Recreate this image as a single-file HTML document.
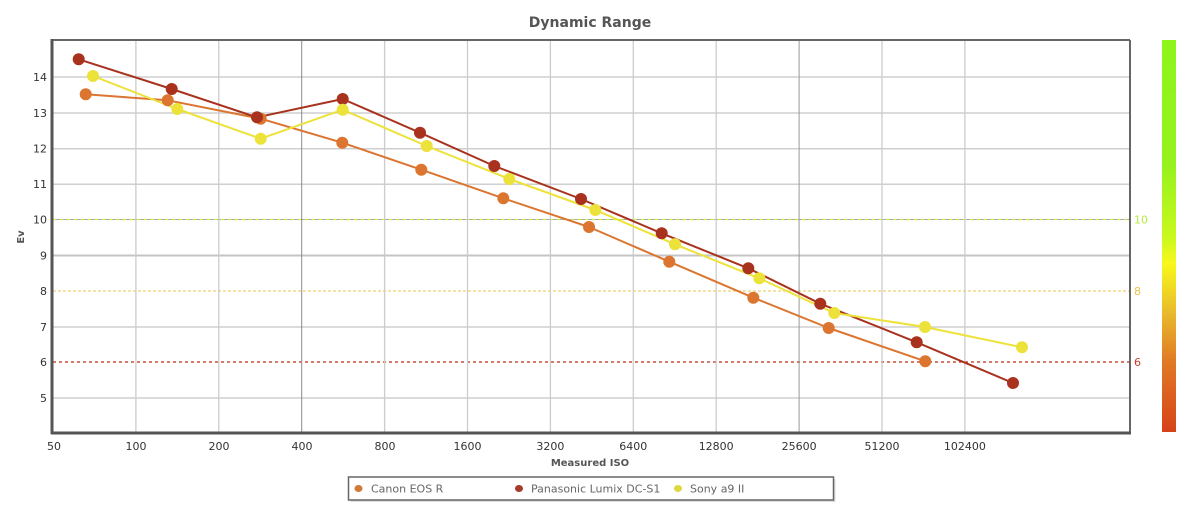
<!DOCTYPE html>
<html><head><meta charset="utf-8"><style>
html,body{margin:0;padding:0;background:#fff;}
svg{display:block;font-family:"DejaVu Sans","Liberation Sans",sans-serif;}
</style></head><body>
<svg width="1200" height="514" viewBox="0 0 1200 514" xmlns="http://www.w3.org/2000/svg">
<defs>
<linearGradient id="cb" x1="0" y1="0" x2="0" y2="1">
<stop offset="0" stop-color="#8ef41e"/>
<stop offset="0.32" stop-color="#96f21e"/>
<stop offset="0.5" stop-color="#c8f81e"/>
<stop offset="0.57" stop-color="#f8f81c"/>
<stop offset="0.7" stop-color="#e8b82c"/>
<stop offset="0.82" stop-color="#e07a24"/>
<stop offset="1" stop-color="#d6421a"/>
</linearGradient>
</defs>
<rect width="1200" height="514" fill="#fff"/>
<text x="590" y="27" text-anchor="middle" font-size="14" font-weight="bold" fill="#555">Dynamic Range</text>

<!-- horizontal grid -->
<g stroke="#cfcfcf" stroke-width="1.5">
<line x1="53" y1="77" x2="1130" y2="77"/>
<line x1="53" y1="113" x2="1130" y2="113"/>
<line x1="53" y1="148.7" x2="1130" y2="148.7"/>
<line x1="53" y1="184.3" x2="1130" y2="184.3"/>
<line x1="53" y1="255.5" x2="1130" y2="255.5" stroke="#c4c4c4" stroke-width="2"/>
<line x1="53" y1="327" x2="1130" y2="327"/>
<line x1="53" y1="398" x2="1130" y2="398"/>
</g>
<line x1="53" y1="219.5" x2="1130" y2="219.5" stroke="#aaa" stroke-width="1"/>
<line x1="53" y1="219.5" x2="1130" y2="219.5" stroke="#c8f040" stroke-width="1.2" stroke-dasharray="3,4"/>
<line x1="53" y1="291" x2="1130" y2="291" stroke="#f0d070" stroke-width="1.2" stroke-dasharray="3,2"/>
<line x1="53" y1="362" x2="1130" y2="362" stroke="#c02a10" stroke-width="1.2" stroke-dasharray="3,3"/>

<!-- vertical grid -->
<g stroke="#cccccc" stroke-width="1.3">
<line x1="135.9" y1="41" x2="135.9" y2="432"/>
<line x1="218.8" y1="41" x2="218.8" y2="432"/>
<line x1="301.7" y1="41" x2="301.7" y2="432" stroke="#8a8a8a" stroke-width="1"/>
<line x1="384.6" y1="41" x2="384.6" y2="432"/>
<line x1="467.5" y1="41" x2="467.5" y2="432"/>
<line x1="550.4" y1="41" x2="550.4" y2="432"/>
<line x1="633.3" y1="41" x2="633.3" y2="432"/>
<line x1="716.2" y1="41" x2="716.2" y2="432"/>
<line x1="799.1" y1="41" x2="799.1" y2="432" stroke="#999" stroke-width="1"/>
<line x1="882" y1="41" x2="882" y2="432"/>
<line x1="964.9" y1="41" x2="964.9" y2="432"/>
</g>

<!-- frame -->
<line x1="52" y1="40" x2="1130" y2="40" stroke="#666" stroke-width="2"/>
<line x1="1130" y1="40" x2="1130" y2="434" stroke="#666" stroke-width="2"/>
<line x1="52" y1="39" x2="52" y2="434" stroke="#555" stroke-width="3"/>
<line x1="51" y1="433" x2="1131" y2="433" stroke="#555" stroke-width="3"/>

<!-- y labels -->
<g font-size="11" fill="#333" text-anchor="end">
<text x="47" y="81">14</text>
<text x="47" y="117">13</text>
<text x="47" y="152.5">12</text>
<text x="47" y="188">11</text>
<text x="47" y="223.5">10</text>
<text x="47" y="259.5">9</text>
<text x="47" y="295">8</text>
<text x="47" y="331">7</text>
<text x="47" y="366">6</text>
<text x="47" y="402">5</text>
</g>
<text transform="translate(24,237) rotate(-90)" text-anchor="middle" font-size="10" font-weight="bold" fill="#555">Ev</text>

<!-- right labels -->
<g font-size="11">
<text x="1134" y="223.5" fill="#b4ec3c">10</text>
<text x="1134" y="295" fill="#eec24a">8</text>
<text x="1134" y="366" fill="#c4402a">6</text>
</g>

<!-- x labels -->
<g font-size="11" fill="#333" text-anchor="middle">
<text x="54" y="450">50</text>
<text x="136" y="450">100</text>
<text x="219" y="450">200</text>
<text x="302" y="450">400</text>
<text x="385" y="450">800</text>
<text x="467.5" y="450">1600</text>
<text x="550.4" y="450">3200</text>
<text x="633.3" y="450">6400</text>
<text x="716.2" y="450">12800</text>
<text x="799.1" y="450">25600</text>
<text x="882" y="450">51200</text>
<text x="964.9" y="450">102400</text>
</g>
<text x="590" y="466" text-anchor="middle" font-size="10" font-weight="bold" fill="#555">Measured ISO</text>

<!-- color bar -->
<rect x="1162" y="40" width="14" height="392" fill="url(#cb)"/>

<!-- series: Canon -->
<polyline fill="none" stroke="#db7530" stroke-width="2" stroke-linejoin="round" points="85.7,94.3 167.7,100.3 260.7,118.7 342.3,142.7 421.3,169.7 503.3,198.3 589,227 669.3,261.7 753.3,297.7 828.7,328 925.3,361.3"/>
<!-- Panasonic -->
<polyline fill="none" stroke="#a8321e" stroke-width="2" stroke-linejoin="round" points="78.7,59.3 171.7,89 257,117.3 342.7,99 420,132.7 494.3,166 581,199 661.7,233.3 748.3,268.3 820.3,303.7 916.7,342.3 1013,383"/>
<!-- Sony -->
<polyline fill="none" stroke="#ece23a" stroke-width="2" stroke-linejoin="round" points="93,76 177.3,109 260.7,138.7 342.7,109.7 426.7,146 509.3,179 595.3,210 675,244.3 759.3,278.3 834.3,313 925,327 1022,347.3"/>

<g fill="#db7530">
<circle cx="85.7" cy="94.3" r="6"/><circle cx="167.7" cy="100.3" r="6"/><circle cx="260.7" cy="118.7" r="6"/><circle cx="342.3" cy="142.7" r="6"/><circle cx="421.3" cy="169.7" r="6"/><circle cx="503.3" cy="198.3" r="6"/><circle cx="589" cy="227" r="6"/><circle cx="669.3" cy="261.7" r="6"/><circle cx="753.3" cy="297.7" r="6"/><circle cx="828.7" cy="328" r="6"/><circle cx="925.3" cy="361.3" r="6"/>
</g>
<g fill="#a8321e">
<circle cx="78.7" cy="59.3" r="6"/><circle cx="171.7" cy="89" r="6"/><circle cx="257" cy="117.3" r="6"/><circle cx="342.7" cy="99" r="6"/><circle cx="420" cy="132.7" r="6"/><circle cx="494.3" cy="166" r="6"/><circle cx="581" cy="199" r="6"/><circle cx="661.7" cy="233.3" r="6"/><circle cx="748.3" cy="268.3" r="6"/><circle cx="820.3" cy="303.7" r="6"/><circle cx="916.7" cy="342.3" r="6"/><circle cx="1013" cy="383" r="6"/>
</g>
<g fill="#ece23a">
<circle cx="93" cy="76" r="6"/><circle cx="177.3" cy="109" r="6"/><circle cx="260.7" cy="138.7" r="6"/><circle cx="342.7" cy="109.7" r="6"/><circle cx="426.7" cy="146" r="6"/><circle cx="509.3" cy="179" r="6"/><circle cx="595.3" cy="210" r="6"/><circle cx="675" cy="244.3" r="6"/><circle cx="759.3" cy="278.3" r="6"/><circle cx="834.3" cy="313" r="6"/><circle cx="925" cy="327" r="6"/><circle cx="1022" cy="347.3" r="6"/>
</g>

<!-- legend -->
<rect x="350.5" y="479" width="485" height="23" fill="#ddd"/>
<rect x="348.5" y="477" width="485" height="23" fill="#fff" stroke="#666" stroke-width="1.5"/>
<ellipse cx="358.5" cy="488.5" rx="4" ry="3.5" fill="#d07a3a"/>
<text x="371" y="492.5" font-size="11" fill="#666">Canon EOS R</text>
<ellipse cx="519" cy="488.5" rx="4" ry="3.5" fill="#a83a2a"/>
<text x="531" y="492.5" font-size="11" fill="#666">Panasonic Lumix DC-S1</text>
<ellipse cx="678" cy="488.5" rx="4" ry="3.5" fill="#e0d840"/>
<text x="690" y="492.5" font-size="11" fill="#666">Sony a9 II</text>
</svg>
</body></html>
